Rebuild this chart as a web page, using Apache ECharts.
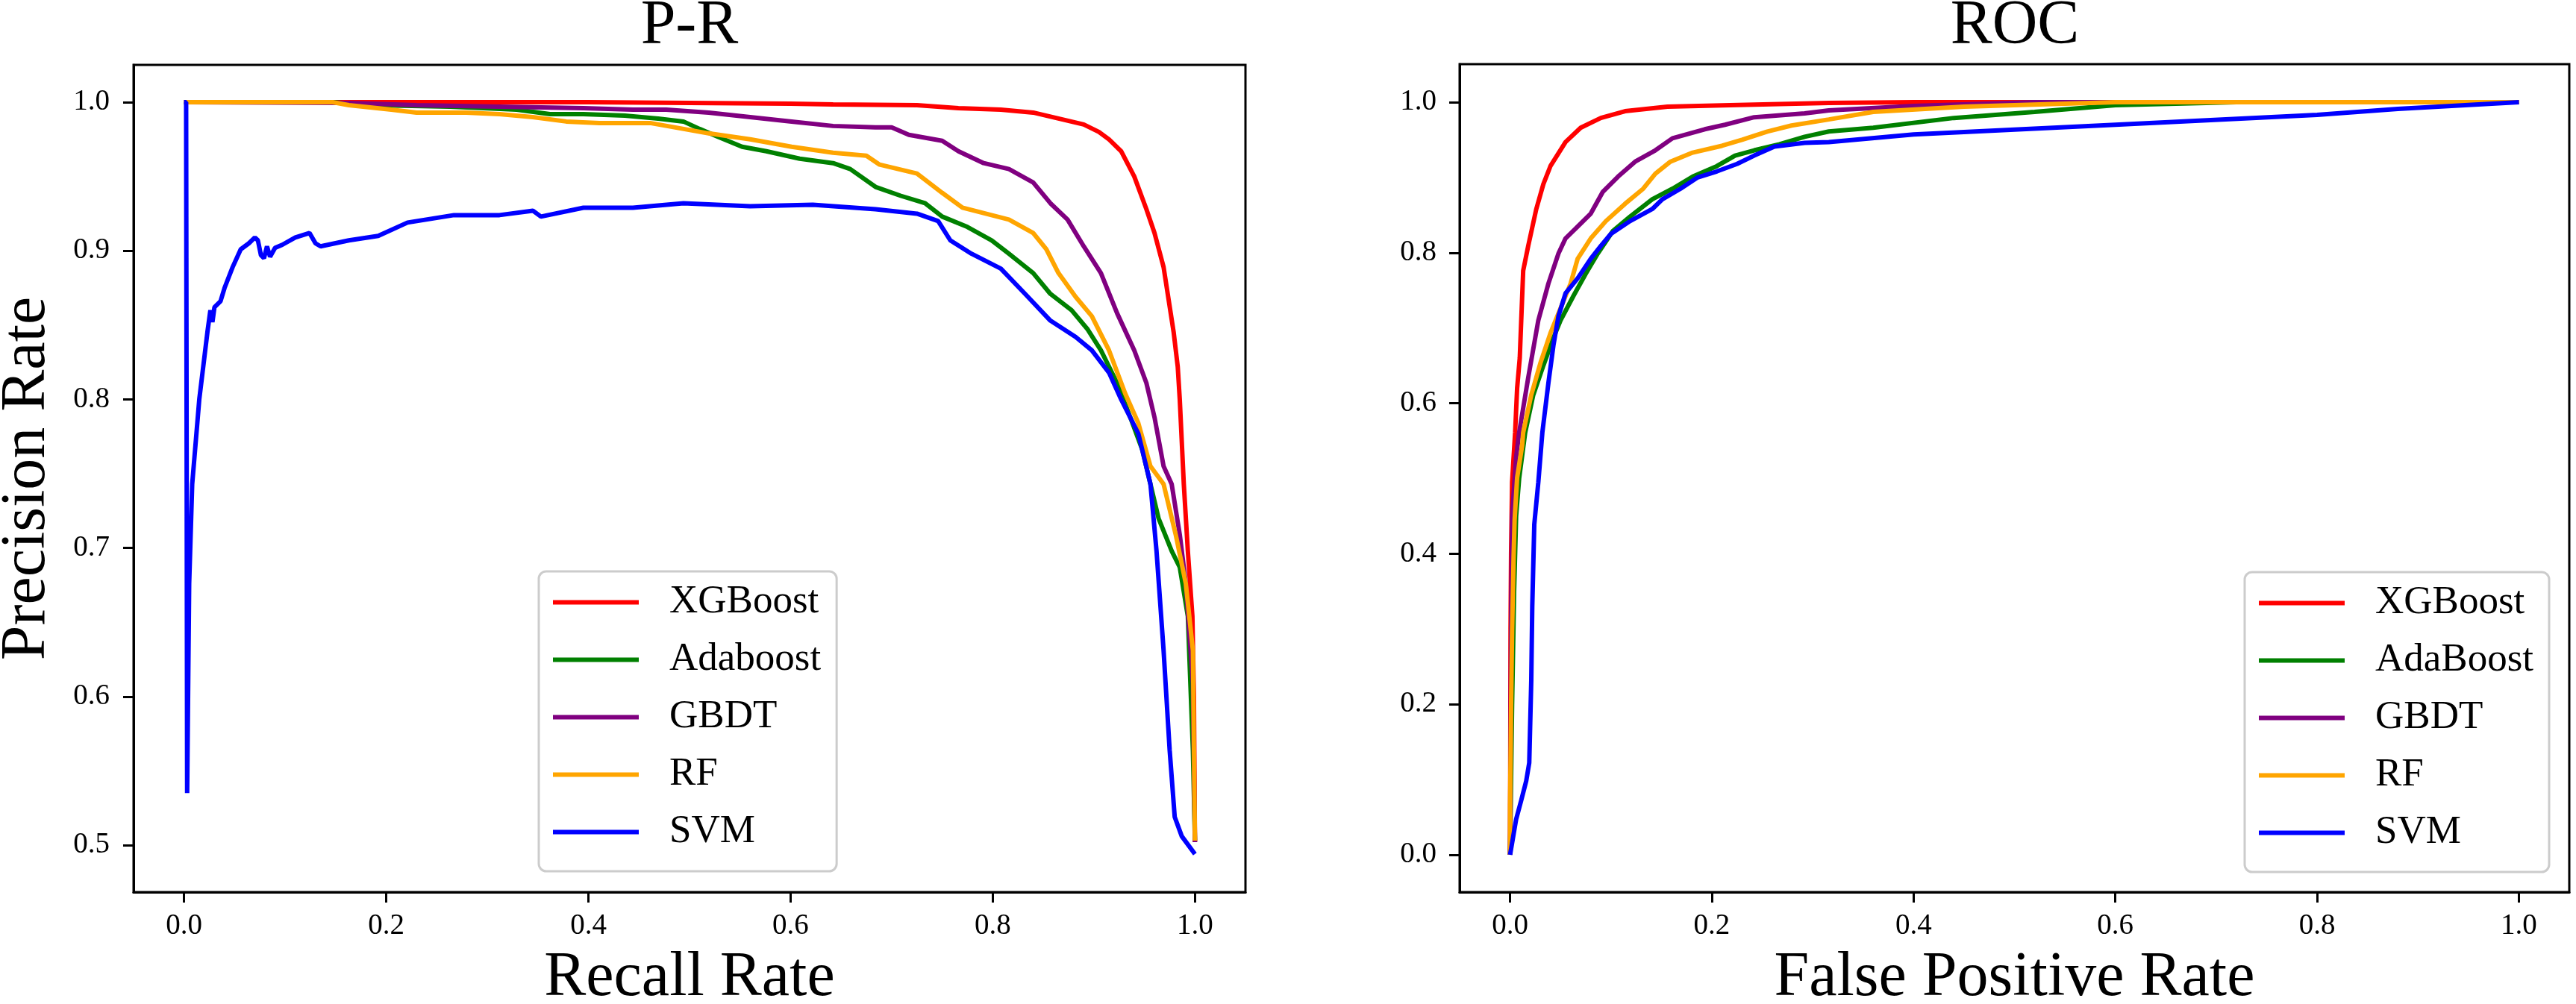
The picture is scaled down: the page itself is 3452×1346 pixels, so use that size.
<!DOCTYPE html>
<html>
<head>
<meta charset="utf-8">
<script src="https://cdn.jsdelivr.net/npm/echarts@6/dist/echarts.min.js"></script>
<style>
html,body{margin:0;padding:0;background:#fff;}
#chart{width:3452px;height:1346px;}
</style>
</head>
<body>
<div id="chart"></div>
<script>
// ---------- DATA ----------
const modelsPR = ['XGBoost', 'Adaboost', 'GBDT', 'RF', 'SVM'];
const modelsROC = ['XGBoost', 'AdaBoost', 'GBDT', 'RF', 'SVM'];
const prTicksX = [0, 0.2, 0.4, 0.6, 0.8, 1.0];
const prTicksY = [0.5, 0.6, 0.7, 0.8, 0.9, 1.0];
const rocTicksX = [0, 0.2, 0.4, 0.6, 0.8, 1.0];
const rocTicksY = [0, 0.2, 0.4, 0.6, 0.8, 1.0];

// P-R curves: [recall, precision]
const prXGBoost = [[0,1],[0.1,1],[0.2,1],[0.3,1],[0.4,1],[0.5,0.9995],[0.6,0.999],[0.642,0.9985],[0.725,0.998],[0.766,0.996],[0.808,0.995],[0.84,0.993],[0.865,0.989],[0.89,0.985],[0.905,0.98],[0.915,0.975],[0.927,0.967],[0.94,0.95],[0.952,0.928],[0.96,0.912],[0.969,0.889],[0.974,0.867],[0.979,0.845],[0.983,0.822],[0.985,0.8],[0.989,0.743],[0.993,0.698],[0.9975,0.654],[0.999,0.6],[1.0,0.502]];
const prAdaboost = [[0,1],[0.147,1],[0.188,0.998],[0.263,0.997],[0.329,0.995],[0.362,0.992],[0.395,0.992],[0.436,0.991],[0.469,0.989],[0.494,0.987],[0.51,0.982],[0.527,0.977],[0.552,0.97],[0.576,0.967],[0.609,0.962],[0.642,0.959],[0.659,0.955],[0.684,0.943],[0.709,0.937],[0.733,0.932],[0.75,0.923],[0.775,0.916],[0.799,0.907],[0.816,0.898],[0.84,0.885],[0.857,0.871],[0.878,0.86],[0.894,0.847],[0.907,0.833],[0.923,0.811],[0.936,0.788],[0.948,0.766],[0.956,0.743],[0.964,0.72],[0.977,0.698],[0.985,0.687],[0.993,0.654],[0.998,0.564],[1.0,0.503]];
const prGBDT = [[0,1],[0.163,0.9995],[0.23,0.998],[0.312,0.997],[0.395,0.996],[0.444,0.995],[0.477,0.995],[0.519,0.993],[0.56,0.99],[0.601,0.987],[0.642,0.984],[0.684,0.983],[0.7,0.983],[0.717,0.978],[0.75,0.974],[0.766,0.967],[0.791,0.959],[0.816,0.955],[0.84,0.946],[0.857,0.932],[0.874,0.921],[0.89,0.903],[0.907,0.885],[0.923,0.858],[0.94,0.833],[0.952,0.811],[0.96,0.788],[0.969,0.755],[0.977,0.743],[0.985,0.709],[0.991,0.676],[0.998,0.609],[1.0,0.502]];
const prRF = [[0,1],[0.147,1],[0.163,0.998],[0.205,0.995],[0.23,0.993],[0.279,0.993],[0.312,0.992],[0.345,0.99],[0.378,0.987],[0.411,0.986],[0.461,0.986],[0.486,0.983],[0.519,0.979],[0.56,0.975],[0.601,0.97],[0.642,0.966],[0.675,0.964],[0.688,0.958],[0.725,0.952],[0.75,0.939],[0.77,0.929],[0.816,0.921],[0.84,0.912],[0.853,0.901],[0.865,0.885],[0.882,0.869],[0.898,0.856],[0.915,0.833],[0.931,0.804],[0.944,0.784],[0.956,0.755],[0.969,0.743],[0.981,0.709],[0.991,0.676],[0.998,0.631],[1.0,0.503]];
const prSVM = [[0,1],[0.002,1],[0.003,0.535],[0.005,0.676],[0.008,0.743],[0.015,0.8],[0.023,0.845],[0.026,0.86],[0.028,0.852],[0.03,0.862],[0.036,0.866],[0.04,0.875],[0.048,0.889],[0.056,0.901],[0.064,0.905],[0.07,0.909],[0.073,0.907],[0.076,0.897],[0.079,0.895],[0.082,0.903],[0.085,0.896],[0.09,0.902],[0.097,0.904],[0.11,0.909],[0.124,0.912],[0.13,0.905],[0.135,0.903],[0.163,0.907],[0.192,0.91],[0.221,0.919],[0.267,0.924],[0.312,0.924],[0.345,0.927],[0.353,0.923],[0.395,0.929],[0.444,0.929],[0.494,0.932],[0.56,0.93],[0.622,0.931],[0.684,0.928],[0.725,0.925],[0.746,0.92],[0.758,0.907],[0.779,0.898],[0.808,0.888],[0.832,0.871],[0.857,0.853],[0.882,0.842],[0.898,0.833],[0.915,0.818],[0.927,0.8],[0.944,0.777],[0.956,0.743],[0.962,0.698],[0.969,0.631],[0.975,0.564],[0.98,0.519],[0.987,0.506],[1.0,0.494]];

// ROC curves: [fpr, tpr]
const rocXGBoost = [[0,0],[0.0005,0.3],[0.001,0.4],[0.002,0.495],[0.005,0.561],[0.007,0.62],[0.0096,0.66],[0.013,0.776],[0.018,0.809],[0.026,0.858],[0.033,0.891],[0.04,0.915],[0.055,0.947],[0.07,0.966],[0.09,0.979],[0.114,0.988],[0.156,0.994],[0.218,0.996],[0.316,0.999],[0.4,1.0],[1.0,1.0]];
const rocAdaBoost = [[0,0],[0.002,0.2],[0.004,0.35],[0.006,0.45],[0.009,0.5],[0.015,0.561],[0.023,0.611],[0.033,0.65],[0.043,0.687],[0.05,0.71],[0.063,0.743],[0.075,0.772],[0.087,0.799],[0.102,0.829],[0.119,0.848],[0.141,0.871],[0.161,0.885],[0.181,0.901],[0.205,0.915],[0.223,0.929],[0.242,0.936],[0.267,0.944],[0.292,0.954],[0.316,0.961],[0.36,0.966],[0.44,0.979],[0.52,0.987],[0.6,0.996],[0.72,1.0],[1.0,1.0]];
const rocGBDT = [[0,0],[0.001,0.3],[0.002,0.45],[0.006,0.528],[0.009,0.561],[0.018,0.634],[0.028,0.71],[0.038,0.759],[0.048,0.799],[0.055,0.819],[0.065,0.832],[0.08,0.852],[0.092,0.881],[0.107,0.901],[0.124,0.921],[0.144,0.936],[0.161,0.952],[0.193,0.964],[0.213,0.97],[0.242,0.98],[0.292,0.985],[0.316,0.989],[0.4,0.995],[0.52,1.0],[1.0,1.0]];
const rocRF = [[0,0],[0,0.065],[0.001,0.197],[0.002,0.297],[0.0035,0.396],[0.0045,0.445],[0.007,0.501],[0.012,0.544],[0.013,0.561],[0.021,0.611],[0.03,0.653],[0.04,0.693],[0.05,0.726],[0.06,0.759],[0.067,0.792],[0.08,0.819],[0.095,0.842],[0.114,0.865],[0.132,0.885],[0.144,0.905],[0.159,0.921],[0.181,0.933],[0.21,0.942],[0.23,0.95],[0.255,0.961],[0.279,0.969],[0.316,0.977],[0.36,0.987],[0.45,0.994],[0.6,1.0],[1.0,1.0]];
const rocSVM = [[0,0],[0.006,0.047],[0.011,0.072],[0.016,0.098],[0.019,0.122],[0.021,0.231],[0.022,0.33],[0.024,0.439],[0.028,0.495],[0.032,0.561],[0.038,0.627],[0.043,0.677],[0.048,0.716],[0.055,0.746],[0.067,0.766],[0.08,0.792],[0.09,0.809],[0.1,0.825],[0.119,0.842],[0.141,0.858],[0.151,0.871],[0.169,0.885],[0.186,0.9],[0.205,0.908],[0.225,0.918],[0.242,0.929],[0.262,0.941],[0.292,0.946],[0.316,0.947],[0.4,0.957],[0.6,0.97],[0.8,0.983],[0.88,0.991],[1.0,1.0]];

// ---------- STYLE / OPTION ----------
const colors = ['#ff0000', '#008000', '#800080', '#ffa500', '#0000ff'];
const FONT = "'Liberation Serif', 'Times New Roman', serif";
const prData = [prXGBoost, prAdaboost, prGBDT, prRF, prSVM];
const rocData = [rocXGBoost, rocAdaBoost, rocGBDT, rocRF, rocSVM];

function labelStyle(ticks, margin) {
  return { customValues: ticks, margin: margin, color: '#000', fontFamily: FONT, fontSize: 39, lineHeight: 39,
    formatter: v => Number(v).toFixed(1) };
}

function axisCommon(ticks, margin, extra) {
  return Object.assign({
    type: 'value',
    splitLine: { show: false },
    axisLine: { show: true, onZero: false, lineStyle: { color: '#000', width: 3 } },
    axisTick: { show: true, customValues: ticks, length: 14, lineStyle: { color: '#000', width: 3 } },
    axisLabel: labelStyle(ticks, margin),
    nameTextStyle: { color: '#000', fontFamily: FONT, fontSize: 84, lineHeight: 84 }
  }, extra);
}

function legendCommon(names, pos) {
  return Object.assign({
    orient: 'vertical',
    data: names,
    icon: 'rect',
    itemWidth: 115,
    itemHeight: 6,
    itemGap: 24,
    padding: [15, 21, 26, 19],
    backgroundColor: 'rgba(255,255,255,0.8)',
    borderColor: '#cccccc',
    borderWidth: 3,
    borderRadius: 10,
    selectedMode: false,
    textStyle: { color: '#000', fontFamily: FONT, fontSize: 53, lineHeight: 53, padding: [0, 0, 0, 36] }
  }, pos);
}

const series = [];
prData.forEach((d, i) => series.push({
  name: modelsPR[i], type: 'line', xAxisIndex: 0, yAxisIndex: 0, data: d,
  showSymbol: false, symbol: 'none', color: colors[i],
  lineStyle: { width: 6, color: colors[i] }, emphasis: { disabled: true }
}));
rocData.forEach((d, i) => series.push({
  name: modelsROC[i], type: 'line', xAxisIndex: 1, yAxisIndex: 1, data: d,
  showSymbol: false, symbol: 'none', color: colors[i],
  lineStyle: { width: 6, color: colors[i] }, emphasis: { disabled: true }
}));

const option = {
  animation: false,
  backgroundColor: '#fff',
  title: [
    { text: 'P-R', left: 924, top: -6, textAlign: 'center', padding: 0,
      textStyle: { color: '#000', fontFamily: FONT, fontSize: 84, fontWeight: 'normal', lineHeight: 84 } },
    { text: 'ROC', left: 2700, top: -6, textAlign: 'center', padding: 0,
      textStyle: { color: '#000', fontFamily: FONT, fontSize: 84, fontWeight: 'normal', lineHeight: 84 } }
  ],
  grid: [
    { left: 179, top: 87, width: 1490, height: 1109, show: true, borderColor: '#000', borderWidth: 3,
      backgroundColor: 'transparent', containLabel: false, outerBoundsMode: 'none' },
    { left: 1956, top: 86, width: 1487, height: 1110, show: true, borderColor: '#000', borderWidth: 3,
      backgroundColor: 'transparent', containLabel: false, outerBoundsMode: 'none' }
  ],
  xAxis: [
    axisCommon(prTicksX, 26, { gridIndex: 0, min: -0.05, max: 1.05, name: 'Recall Rate', nameLocation: 'middle', nameGap: 74 }),
    axisCommon(rocTicksX, 26, { gridIndex: 1, min: -0.05, max: 1.05, name: 'False Positive Rate', nameLocation: 'middle', nameGap: 74 })
  ],
  yAxis: [
    axisCommon(prTicksY, 32, { gridIndex: 0, min: 0.4684, max: 1.0251, name: 'Precision Rate', nameLocation: 'middle', nameGap: 100 }),
    axisCommon(rocTicksY, 31, { gridIndex: 1, min: -0.0496, max: 1.0505 })
  ],
  legend: [
    legendCommon(modelsPR, { left: 722, top: 766 }),
    legendCommon(modelsROC, { right: 36, bottom: 177 })
  ],
  series: series
};

const chart = echarts.init(document.getElementById('chart'), null, { renderer: 'canvas' });
chart.setOption(option);
</script>
</body>
</html>
